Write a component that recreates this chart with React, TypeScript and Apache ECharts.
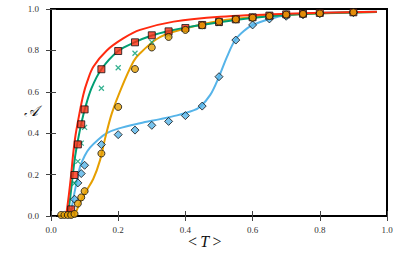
import React, { useEffect, useRef } from "react";
import * as echarts from "echarts";

const xTicks = [0.0, 0.2, 0.4, 0.6, 0.8, 1.0];
const yTicks = [0.0, 0.2, 0.4, 0.6, 0.8, 1.0];

// Measured series (markers)
const redSquares: [number, number][] = [
  [0.06, 0.032], [0.07, 0.198], [0.08, 0.346], [0.09, 0.443], [0.1, 0.515],
  [0.15, 0.709], [0.2, 0.797], [0.25, 0.839], [0.3, 0.873], [0.35, 0.892],
  [0.4, 0.908], [0.45, 0.923], [0.5, 0.937], [0.55, 0.95], [0.6, 0.96],
  [0.65, 0.968], [0.7, 0.974], [0.75, 0.977], [0.8, 0.981], [0.9, 0.984],
];
const tealCrosses: [number, number][] = [
  [0.06, 0.03], [0.07, 0.158], [0.08, 0.264], [0.09, 0.352], [0.1, 0.428],
  [0.15, 0.617], [0.2, 0.716], [0.25, 0.786], [0.3, 0.84], [0.35, 0.875],
  [0.4, 0.9], [0.45, 0.915], [0.5, 0.93], [0.55, 0.945], [0.6, 0.955],
  [0.65, 0.965], [0.7, 0.972], [0.75, 0.976], [0.8, 0.98], [0.9, 0.984],
];
const orangeCircles: [number, number][] = [
  [0.03, 0.005], [0.04, 0.005], [0.05, 0.005], [0.06, 0.005], [0.07, 0.01],
  [0.08, 0.06], [0.09, 0.09], [0.1, 0.12], [0.15, 0.302], [0.2, 0.527],
  [0.25, 0.71], [0.3, 0.814], [0.35, 0.865], [0.4, 0.899], [0.45, 0.921],
  [0.5, 0.939], [0.55, 0.95], [0.6, 0.958], [0.65, 0.966], [0.7, 0.973],
  [0.75, 0.976], [0.8, 0.979], [0.9, 0.984],
];
const blueDiamonds: [number, number][] = [
  [0.06, 0.01], [0.07, 0.081], [0.08, 0.16], [0.09, 0.205], [0.1, 0.245],
  [0.15, 0.345], [0.2, 0.393], [0.25, 0.415], [0.3, 0.438], [0.35, 0.457],
  [0.4, 0.485], [0.45, 0.531], [0.5, 0.673], [0.55, 0.85], [0.6, 0.923],
  [0.65, 0.952], [0.7, 0.965], [0.75, 0.972], [0.8, 0.978], [0.9, 0.983],
];

// Model curves
const redCurve: [number, number][] = [
  [0.045, 0], [0.053, 0.1], [0.06, 0.2], [0.066, 0.3], [0.073, 0.39], [0.084, 0.49],
  [0.096, 0.585], [0.108, 0.65], [0.126, 0.721], [0.166, 0.8], [0.215, 0.858],
  [0.265, 0.899], [0.365, 0.939], [0.504, 0.963], [0.7, 0.977], [0.97, 0.987],
];
const tealCurve: [number, number][] = [
  [0.05, 0], [0.058, 0.1], [0.065, 0.2], [0.072, 0.29], [0.08, 0.365], [0.09, 0.445],
  [0.1, 0.512], [0.12, 0.615], [0.15, 0.709], [0.2, 0.797], [0.25, 0.84],
  [0.3, 0.872], [0.35, 0.894], [0.4, 0.91], [0.5, 0.936], [0.6, 0.957],
  [0.7, 0.971], [0.8, 0.979], [0.97, 0.986],
];
const orangeCurve: [number, number][] = [
  [0.07, 0], [0.085, 0.06], [0.101, 0.11], [0.126, 0.18], [0.146, 0.27],
  [0.161, 0.375], [0.181, 0.496], [0.206, 0.605], [0.245, 0.745], [0.265, 0.786],
  [0.315, 0.855], [0.365, 0.89], [0.504, 0.943], [0.7, 0.972], [0.97, 0.986],
];
const blueCurve: [number, number][] = [
  [0.058, 0], [0.066, 0.08], [0.076, 0.16], [0.086, 0.235], [0.1, 0.29],
  [0.116, 0.33], [0.141, 0.37], [0.166, 0.4], [0.2, 0.422], [0.265, 0.448],
  [0.325, 0.468], [0.375, 0.486], [0.424, 0.51], [0.444, 0.528], [0.474, 0.585],
  [0.5, 0.673], [0.524, 0.77], [0.548, 0.85], [0.573, 0.893], [0.601, 0.923],
  [0.651, 0.952], [0.7, 0.97], [0.79, 0.981], [0.97, 0.987],
];

const RED = "#ff2a10";
const TEAL = "#009e73";
const ORANGE = "#e69f00";
const BLUE = "#56b4e9";

const crossPath = "path://M0,0L10,10M10,0L0,10";

export default function App() {
  const ref = useRef<HTMLDivElement>(null);
  useEffect(() => {
    if (!ref.current) return;
    const chart = echarts.init(ref.current, null, { renderer: "svg" });
    const fmt = (v: number) => v.toFixed(1);
    const labelStyle = { fontFamily: "Liberation Serif", fontSize: 9, color: "#333" };
    const axisCommon = {
      type: "value" as const,
      min: 0,
      max: 1,
      interval: 0.2,
      splitLine: { show: false },
      axisLine: { show: false },
      axisTick: { show: true, inside: true, length: 5, lineStyle: { color: "#444", width: 1 } },
    };
    const lineSeries = (data: [number, number][], color: string) => ({
      type: "line" as const,
      data,
      smooth: 0.35,
      showSymbol: false,
      symbol: "none",
      lineStyle: { color, width: 2 },
      z: 1,
    });
    const scatter = (data: [number, number][], symbol: string, color: string, size: number, z: number, cross = false) => ({
      type: "scatter" as const,
      data,
      symbol,
      symbolSize: size,
      itemStyle: cross
        ? { color: "rgba(0,0,0,0)", borderColor: color, borderWidth: 1.2 }
        : { color, borderColor: "#111", borderWidth: 1 },
      z,
    });
    chart.setOption({
      animation: false,
      grid: { left: 51, top: 9, width: 336, height: 207, show: true, borderColor: "#000", borderWidth: 2, backgroundColor: "#fff" },
      xAxis: [
        { ...axisCommon, position: "bottom", axisLabel: { ...labelStyle, margin: 9, formatter: fmt } },
        { ...axisCommon, position: "top", axisLabel: { show: false } },
      ],
      yAxis: [
        { ...axisCommon, position: "left", axisLabel: { ...labelStyle, margin: 12, formatter: fmt } },
        { ...axisCommon, position: "right", axisLabel: { show: false } },
      ],
      series: [
        lineSeries(blueCurve, BLUE),
        lineSeries(orangeCurve, ORANGE),
        lineSeries(tealCurve, TEAL),
        lineSeries(redCurve, RED),
        scatter(blueDiamonds, "diamond", BLUE, 8, 2),
        scatter(tealCrosses, crossPath, TEAL, 5, 3, true),
        scatter(redSquares, "rect", RED, 7, 4),
        scatter(orangeCircles, "circle", ORANGE, 7, 5),
      ],
      graphic: [
        {
          type: "text",
          left: 24,
          top: 103,
          style: { text: "𝒜", fontFamily: "DejaVu Serif", fontStyle: "italic", fontSize: 15, fill: "#111" },
        },
        {
          type: "text",
          left: 188,
          top: 233,
          style: {
            text: "{a|<} {b|T} {a|>}",
            rich: {
              a: { fontFamily: "Liberation Serif", fontSize: 16, fill: "#111" },
              b: { fontFamily: "Liberation Serif", fontStyle: "italic", fontSize: 16, fill: "#111" },
            },
          },
        },
      ],
    });
    return () => chart.dispose();
  }, []);
  return <div ref={ref} style={{ width: 400, height: 256, position: "absolute", left: 0, top: 0 }} />;
}
